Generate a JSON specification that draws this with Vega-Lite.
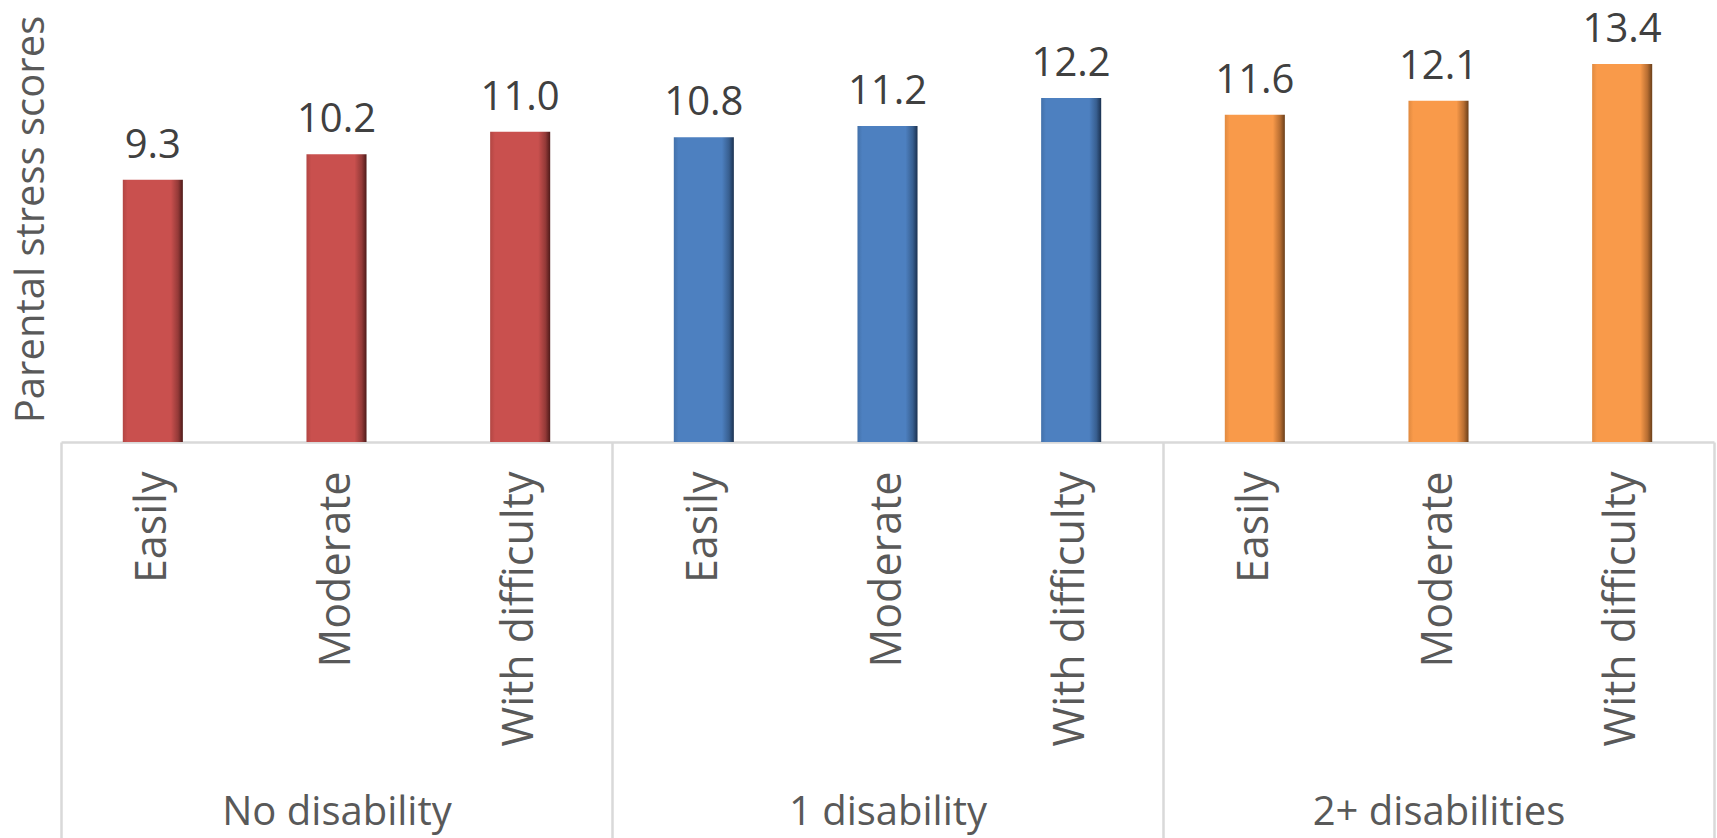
{
  "$schema": "https://vega.github.io/schema/vega-lite/v6.json",
  "width": 1653,
  "height": 442,
  "autosize": "none",
  "padding": {"left": 61, "top": 0, "right": 3, "bottom": 396},
  "background": "white",
  "config": {"view": {"stroke": null}, "font": "Open Sans"},
  "datasets": {
    "scores": [
      {"key": "No disability|Easily", "group": "No disability", "level": "Easily", "value": 9.3},
      {"key": "No disability|Moderate", "group": "No disability", "level": "Moderate", "value": 10.2},
      {"key": "No disability|With difficulty", "group": "No disability", "level": "With difficulty", "value": 11.0},
      {"key": "1 disability|Easily", "group": "1 disability", "level": "Easily", "value": 10.8},
      {"key": "1 disability|Moderate", "group": "1 disability", "level": "Moderate", "value": 11.2},
      {"key": "1 disability|With difficulty", "group": "1 disability", "level": "With difficulty", "value": 12.2},
      {"key": "2+ disabilities|Easily", "group": "2+ disabilities", "level": "Easily", "value": 11.6},
      {"key": "2+ disabilities|Moderate", "group": "2+ disabilities", "level": "Moderate", "value": 12.1},
      {"key": "2+ disabilities|With difficulty", "group": "2+ disabilities", "level": "With difficulty", "value": 13.4}
    ],
    "groups": [
      {"group": "No disability"},
      {"group": "1 disability"},
      {"group": "2+ disabilities"}
    ]
  },
  "layer": [
    {
      "data": {"name": "scores"},
      "encoding": {
        "x": {
          "field": "key",
          "type": "nominal",
          "sort": null,
          "scale": {"paddingInner": 0.673, "paddingOuter": 0.3365},
          "axis": {
            "title": null,
            "labelExpr": "split(datum.value, '|')[1]",
            "labelAngle": -90,
            "labelFontSize": 43,
            "labelColor": "#595959",
            "labelPadding": 29,
            "labelLimit": 500,
            "labelOverlap": false,
            "labelBound": false,
            "ticks": false,
            "domainColor": "#d9d9d9",
            "domainWidth": 2.5,
            "grid": false
          }
        },
        "y": {
          "field": "value",
          "type": "quantitative",
          "scale": {"domain": [0, 15.67], "nice": false, "zero": true},
          "axis": {
            "title": "Parental stress scores",
            "titleFontSize": 40,
            "titleFontWeight": "normal",
            "titleColor": "#595959",
            "titleAngle": -90,
            "titleAlign": "center",
            "titleBaseline": "alphabetic",
            "titleX": -18,
            "titleY": 219,
            "labels": false,
            "ticks": false,
            "domain": false,
            "grid": false
          }
        }
      },
      "layer": [
        {
          "transform": [{"filter": "datum.group === 'No disability'"}],
          "mark": {
            "type": "bar",
            "color": {
              "gradient": "linear", "x1": 0, "y1": 0, "x2": 1, "y2": 0,
              "stops": [
                {"offset": 0, "color": "#b24643"},
                {"offset": 0.08, "color": "#c9504e"},
                {"offset": 0.8, "color": "#c9504e"},
                {"offset": 0.92, "color": "#943a38"},
                {"offset": 1, "color": "#4e1a19"}
              ]
            }
          }
        },
        {
          "transform": [{"filter": "datum.group === '1 disability'"}],
          "mark": {
            "type": "bar",
            "color": {
              "gradient": "linear", "x1": 0, "y1": 0, "x2": 1, "y2": 0,
              "stops": [
                {"offset": 0, "color": "#4371aa"},
                {"offset": 0.08, "color": "#4d80c0"},
                {"offset": 0.8, "color": "#4d80c0"},
                {"offset": 0.92, "color": "#385f90"},
                {"offset": 1, "color": "#1b3150"}
              ]
            }
          }
        },
        {
          "transform": [{"filter": "datum.group === '2+ disabilities'"}],
          "mark": {
            "type": "bar",
            "color": {
              "gradient": "linear", "x1": 0, "y1": 0, "x2": 1, "y2": 0,
              "stops": [
                {"offset": 0, "color": "#e08a40"},
                {"offset": 0.08, "color": "#f99a4a"},
                {"offset": 0.8, "color": "#f99a4a"},
                {"offset": 0.92, "color": "#b86e32"},
                {"offset": 1, "color": "#6a3f1a"}
              ]
            }
          }
        },
        {
          "mark": {
            "type": "text",
            "baseline": "alphabetic",
            "align": "center",
            "dy": -22,
            "fontSize": 40,
            "color": "#404040"
          },
          "encoding": {
            "text": {"field": "value", "type": "quantitative", "format": ".1f"}
          }
        }
      ]
    },
    {
      "data": {"name": "groups"},
      "mark": {"type": "rule", "opacity": 0},
      "encoding": {
        "x": {
          "field": "group",
          "type": "nominal",
          "sort": null,
          "scale": {"paddingInner": 0, "paddingOuter": 0},
          "axis": {
            "title": null,
            "orient": "bottom",
            "domain": false,
            "grid": false,
            "tickBand": "extent",
            "tickSize": 396,
            "tickWidth": 2.5,
            "tickColor": "#d9d9d9",
            "labelAngle": 0,
            "labelFontSize": 40,
            "labelColor": "#595959",
            "labelBaseline": "alphabetic",
            "labelPadding": -14,
            "labelLimit": 600
          }
        }
      }
    }
  ],
  "resolve": {"scale": {"x": "independent"}, "axis": {"x": "independent"}}
}
